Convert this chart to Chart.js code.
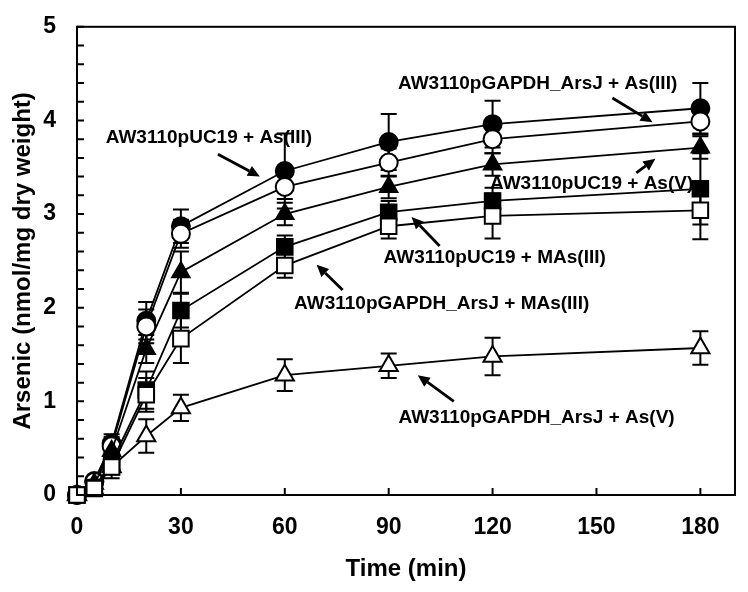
<!DOCTYPE html>
<html lang="en">
<head>
<meta charset="utf-8">
<title>Arsenic accumulation</title>
<script src="https://cdn.jsdelivr.net/npm/chart.js@4.4.1/dist/chart.umd.min.js"></script>
<style>
  html, body { margin: 0; padding: 0; background: #fff; }
  #wrap { width: 748px; height: 592px; }
</style>
</head>
<body>
<div id="wrap">
  <canvas id="arsenic-chart" width="748" height="592"></canvas>
</div>

<script>
  // sampling times (min)
  const times = [0, 5, 10, 20, 30, 60, 90, 120, 180];
  const xTicks = [0, 30, 60, 90, 120, 150, 180];

  const pucAs3 = [0, 0.15, 0.55, 1.86, 2.87, 3.46, 3.77, 3.96, 4.13];
  const pucAs3Err = [0, 0.03, 0.1, 0.2, 0.18, 0.4, 0.3, 0.25, 0.27];

  const gapdhAs3 = [0, 0.14, 0.52, 1.8, 2.79, 3.29, 3.55, 3.8, 3.99];
  const gapdhAs3Err = [0, 0.03, 0.1, 0.18, 0.15, 0.13, 0.15, 0.15, 0.14];

  const pucAs5 = [0, 0.12, 0.47, 1.56, 2.38, 3.0, 3.29, 3.53, 3.71];
  const pucAs5Err = [0, 0.03, 0.1, 0.15, 0.22, 0.12, 0.12, 0.12, 0.12];

  const pucMas3 = [0, 0.08, 0.35, 1.12, 1.97, 2.65, 3.02, 3.14, 3.27];
  const pucMas3Err = [0, 0.03, 0.1, 0.2, 0.18, 0.12, 0.12, 0.14, 0.38];

  const gapdhMas3 = [0, 0.07, 0.3, 1.07, 1.67, 2.45, 2.87, 2.98, 3.04];
  const gapdhMas3Err = [0, 0.03, 0.12, 0.18, 0.26, 0.13, 0.13, 0.24, 0.31];

  const gapdhAs5 = [0, 0.06, 0.3, 0.63, 0.93, 1.28, 1.38, 1.48, 1.57];
  const gapdhAs5Err = [0, 0.02, 0.08, 0.18, 0.14, 0.17, 0.13, 0.2, 0.18];

  // in-plot labels with their arrows (data units)
  const notes = [
    { text: 'AW3110pUC19 + As(III)', at: [38.1, 3.81], from: [40.7, 3.64], to: [52.8, 3.40] },
    { text: 'AW3110pGAPDH_ArsJ + As(III)', at: [133.0, 4.39], from: [154.6, 4.24], to: [166.2, 3.98] },
    { text: 'AW3110pUC19 + As(V)', at: [148.6, 3.32], from: [161.5, 3.44], to: [167.0, 3.59] },
    { text: 'AW3110pUC19 + MAs(III)', at: [120.6, 2.53], from: [104.7, 2.66], to: [96.6, 2.97] },
    { text: 'AW3110pGAPDH_ArsJ + MAs(III)', at: [105.3, 2.04], from: [76.7, 2.19], to: [69.2, 2.46] },
    { text: 'AW3110pGAPDH_ArsJ + As(V)', at: [132.7, 0.82], from: [108.8, 1.0], to: [98.4, 1.28] },
  ];

  const FONT = '"Liberation Sans", Arial, Helvetica, sans-serif';

  function toPoints(values) {
    return values.map((v, i) => ({ x: times[i], y: v }));
  }

  function series(label, values, errors, style, filled, radius) {
    return {
      label: label,
      data: toPoints(values),
      errors: errors,
      borderColor: '#000',
      borderWidth: 1.8,
      pointStyle: style,
      pointRadius: radius,
      pointHoverRadius: radius,
      pointBorderWidth: 2,
      pointBorderColor: '#000',
      pointBackgroundColor: filled ? '#000' : '#fff',
      tension: 0,
      clip: false,
    };
  }

  // error bars + labels under the markers, frame and inward ticks on top
  const decorations = {
    id: 'decorations',
    beforeDatasetsDraw(chart) {
      const { ctx, scales: { x, y } } = chart;
      ctx.save();
      ctx.fillStyle = '#000';
      ctx.strokeStyle = '#000';

      // labels and arrows
      ctx.font = 'bold 19px ' + FONT;
      ctx.textAlign = 'center';
      ctx.textBaseline = 'middle';
      ctx.lineWidth = 2.8;
      notes.forEach(n => {
        ctx.fillText(n.text, x.getPixelForValue(n.at[0]), y.getPixelForValue(n.at[1]));
        const x1 = x.getPixelForValue(n.from[0]), y1 = y.getPixelForValue(n.from[1]);
        const x2 = x.getPixelForValue(n.to[0]), y2 = y.getPixelForValue(n.to[1]);
        const a = Math.atan2(y2 - y1, x2 - x1);
        const hl = 12, hw = 5.5;
        ctx.beginPath();
        ctx.moveTo(x1, y1);
        ctx.lineTo(x2 - hl * Math.cos(a), y2 - hl * Math.sin(a));
        ctx.stroke();
        ctx.beginPath();
        ctx.moveTo(x2, y2);
        ctx.lineTo(x2 - hl * Math.cos(a) + hw * Math.sin(a), y2 - hl * Math.sin(a) - hw * Math.cos(a));
        ctx.lineTo(x2 - hl * Math.cos(a) - hw * Math.sin(a), y2 - hl * Math.sin(a) + hw * Math.cos(a));
        ctx.closePath();
        ctx.fill();
      });

      // error bars
      ctx.lineWidth = 2;
      chart.data.datasets.forEach(ds => {
        ds.data.forEach((p, i) => {
          const e = ds.errors[i];
          if (!e) return;
          const px = x.getPixelForValue(p.x);
          const top = y.getPixelForValue(p.y + e);
          const bot = y.getPixelForValue(p.y - e);
          ctx.beginPath();
          ctx.moveTo(px, top); ctx.lineTo(px, bot);
          ctx.moveTo(px - 8, top); ctx.lineTo(px + 8, top);
          ctx.moveTo(px - 8, bot); ctx.lineTo(px + 8, bot);
          ctx.stroke();
        });
      });
      ctx.restore();
    },
    afterDatasetsDraw(chart) {
      const { ctx, chartArea: area, scales: { x, y } } = chart;
      ctx.save();
      ctx.strokeStyle = '#000';
      ctx.lineWidth = 2;
      ctx.strokeRect(area.left, area.top, area.right - area.left, area.bottom - area.top);

      ctx.beginPath();
      xTicks.forEach(v => {
        const px = x.getPixelForValue(v);
        ctx.moveTo(px, area.bottom);
        ctx.lineTo(px, area.bottom - 7);
      });
      y.ticks.forEach(t => {
        const py = y.getPixelForValue(t.value);
        ctx.moveTo(area.left, py);
        ctx.lineTo(area.left + 7, py);
      });
      ctx.stroke();
      ctx.restore();
    }
  };

  const chartData = {
    datasets: [
      series('AW3110pGAPDH_ArsJ + MAs(III)', gapdhMas3, gapdhMas3Err, 'rect', false, 11),
      series('AW3110pUC19 + MAs(III)', pucMas3, pucMas3Err, 'rect', true, 11),
      series('AW3110pGAPDH_ArsJ + As(V)', gapdhAs5, gapdhAs5Err, 'triangle', false, 10.5),
      series('AW3110pUC19 + As(V)', pucAs5, pucAs5Err, 'triangle', true, 10),
      series('AW3110pGAPDH_ArsJ + As(III)', gapdhAs3, gapdhAs3Err, 'circle', false, 9),
      series('AW3110pUC19 + As(III)', pucAs3, pucAs3Err, 'circle', true, 9),
    ]
  };

  const tickFont = { family: FONT, size: 23, weight: 'bold' };
  const titleFont = { family: FONT, size: 24, weight: 'bold' };

  new Chart(document.getElementById('arsenic-chart').getContext('2d'), {
    type: 'line',
    data: chartData,
    plugins: [decorations],
    options: {
      responsive: false,
      animation: false,
      devicePixelRatio: 1,
      events: [],
      layout: { padding: { top: 20, right: 11, left: 0, bottom: 0 } },
      plugins: {
        legend: { display: false },
        tooltip: { enabled: false },
      },
      scales: {
        x: {
          type: 'linear',
          min: 0,
          max: 190,
          grid: { display: false },
          border: { display: false },
          afterBuildTicks: s => { s.ticks = xTicks.map(v => ({ value: v })); },
          ticks: {
            color: '#000',
            font: tickFont,
            padding: 11,
            maxRotation: 0,
            autoSkip: false,
          },
          title: { display: true, text: 'Time (min)', color: '#000', font: titleFont, padding: { top: 0, bottom: 8 } },
          afterFit: s => { s.height = 97; },
        },
        y: {
          min: 0,
          max: 5,
          grid: { display: false },
          border: { display: false },
          ticks: {
            stepSize: 0.2,
            color: '#000',
            font: tickFont,
            padding: 13,
            autoSkip: false,
            callback: v => (Math.abs(v - Math.round(v)) < 1e-6 ? Math.round(v) : ''),
          },
          title: { display: true, text: 'Arsenic (nmol/mg dry weight)', color: '#000', font: titleFont, padding: { top: 9, bottom: 0 } },
          afterFit: s => { s.width = 77; },
        }
      }
    }
  });
</script>
</body>
</html>
